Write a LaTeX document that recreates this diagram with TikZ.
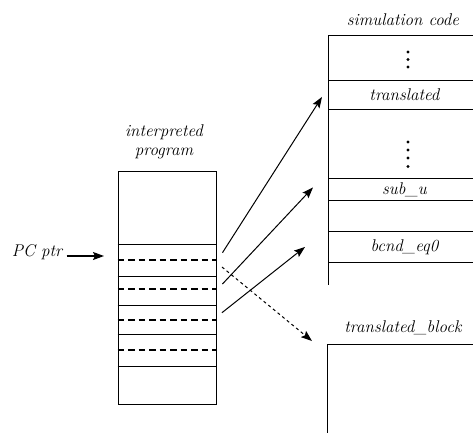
\documentclass[tikz,border=0pt]{standalone}
\usepackage{fontspec}
\usetikzlibrary{arrows.meta}
\begin{document}
\begin{tikzpicture}[x=1pt,y=-1pt,line width=0.9pt,
  lbl/.style={font=\fontsize{17}{19.5}\selectfont\itshape,inner sep=0pt,align=center},
  cell/.style={draw,anchor=north west,minimum width=152pt,minimum height=#1,inner sep=0pt,
    font=\fontsize{17}{19.5}\selectfont\itshape},
  slot/.style={minimum width=98pt,minimum height=15pt,inner sep=0pt},
  arr/.style={-{Stealth[length=11pt,width=8pt,inset=2pt]},line width=1pt},
  dotarr/.style={arr,dash pattern=on 3pt off 3pt},
  dotmark/.style={fill,circle,inner sep=0pt,minimum size=3.2pt}]
\useasboundingbox (0,0) rectangle (473,432);
\clip (0,0) rectangle (473,432);

% interpreted program column
\node[lbl] (ptitle) at (164,142) {interpreted\\program};
\node[draw,anchor=north west,minimum width=98pt,minimum height=233.5pt,inner sep=0pt] (prog) at (117.5,170.5) {};
\foreach \y in {244,276,305.5,334.5,366}
  \draw (prog.west |- 0,\y) -- (prog.east |- 0,\y);
\foreach \y in {260,289,320,350}
  \draw[line width=1.2pt,dash pattern=on 6.5pt off 4pt] (prog.west |- 0,\y) -- (prog.east |- 0,\y);
\node[slot] (i1) at (166.5,252.7) {};
\node[slot] (i2) at (166.5,267) {};
\node[slot] (i3) at (166.5,284) {};
\node[slot] (i5) at (166.5,312.7) {};

% program counter
\node[lbl] (pc) at (37,252) {PC ptr};
\draw[arr,line width=1.3pt,shorten >=13.5pt] ([xshift=4pt]pc.east |- 0,256) -- (prog.west |- 0,256);

% simulation code column
\node[lbl] (stitle) at (403,20) {simulation code};
\draw (480,35) -- (328,35) -- (328,285);
\node[cell=29pt] (trans) at (328,80) {translated};
\node[cell=22pt] (sub) at (328,178) {sub\_u};
\node[cell=31pt] (bcnd) at (328,231) {bcnd\_eq0};
\foreach \y in {52,59.5,67}
  \node[dotmark] at (408,\y) {};
\foreach \y in {142,150,158,166.5}
  \node[dotmark] at (408,\y) {};

% translated block
\node[lbl] (btitle) at (403,328) {translated\_block};
\draw (480,344) -- (327,344) -- (327,440);
\coordinate (blk) at (327,344);

% connectors
\draw[arr] ([xshift=6.5pt]i1.east) -- ([xshift=-6pt,yshift=-2pt]trans.west);
\draw[arr] ([xshift=6.5pt]i3.east) -- ([xshift=-15pt,yshift=2pt]sub.west);
\draw[arr] ([xshift=6pt]i5.east) -- ([xshift=-23pt]bcnd.west);
\draw[dotarr] ([xshift=6pt]i2.east) -- ([xshift=-15pt,yshift=3pt]blk);
\end{tikzpicture}
\end{document}
